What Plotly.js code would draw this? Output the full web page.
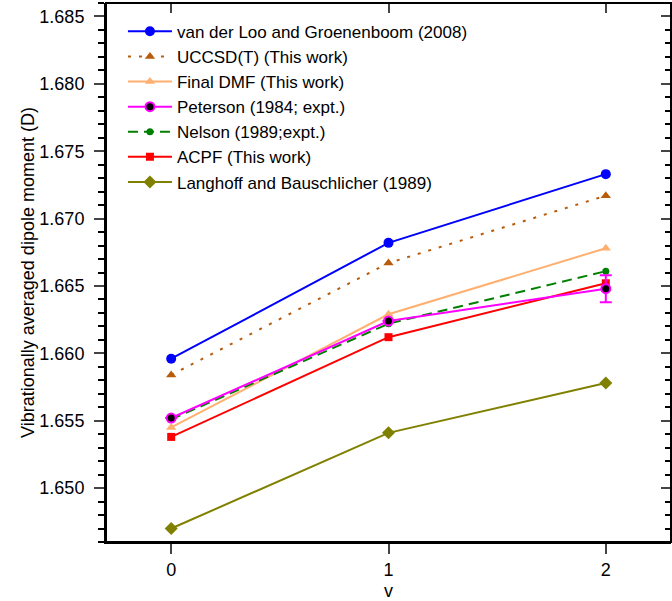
<!DOCTYPE html>
<html>
<head>
<meta charset="utf-8">
<script src="https://cdn.plot.ly/plotly-3.0.1.min.js"></script>
<style>html,body{margin:0;padding:0;background:#fff;}#chart{width:672px;height:601px;}</style>
</head>
<body>
<div id="chart"></div>
<script>
const v = [0, 1, 2];
const tickVals = [0, 1, 2];
const tickText = ["0", "1", "2"];
const vanDerLoo = [1.6596, 1.6682, 1.6733];
const uccsdt = [1.6584, 1.6667, 1.6717];
const finalDMF = [1.6545, 1.6629, 1.6678];
const peterson = [1.6552, 1.6624, 1.6648];
const petersonErr = [0, 0, 0.001];
const nelson = [1.6551, 1.6622, 1.6661];
const acpf = [1.6538, 1.6612, 1.6652];
const langhoff = [1.6470, 1.6541, 1.6578];

const names = [
  "van der Loo and Groenenboom (2008)",
  "UCCSD(T) (This work)",
  "Final DMF (This work)",
  "Peterson (1984; expt.)",
  "Nelson (1989;expt.)",
  "ACPF (This work)",
  "Langhoff and Bauschlicher (1989)"
];

const traces = [
  {x: v, y: langhoff, name: names[6], legendrank: 7, mode: "lines+markers",
   line: {color: "#808000", width: 2}, marker: {symbol: "diamond", size: 10, color: "#808000"}},
  {x: v, y: vanDerLoo, name: names[0], legendrank: 1, mode: "lines+markers",
   line: {color: "#0000FF", width: 2}, marker: {symbol: "circle", size: 10, color: "#0000FF"}},
  {x: v, y: uccsdt, name: names[1], legendrank: 2, mode: "lines+markers",
   line: {color: "#B85C0C", width: 2, dash: "3px,8px"}, marker: {symbol: "triangle-up", size: 9, color: "#B85C0C"}},
  {x: v, y: finalDMF, name: names[2], legendrank: 3, mode: "lines+markers",
   line: {color: "#FFB070", width: 2}, marker: {symbol: "triangle-up", size: 9, color: "#FFB070"}},
  {x: v, y: nelson, name: names[4], legendrank: 5, mode: "lines+markers",
   line: {color: "#008000", width: 2, dash: "10px,6px"}, marker: {symbol: "circle", size: 7, color: "#008000"}},
  {x: v, y: acpf, name: names[5], legendrank: 6, mode: "lines+markers",
   line: {color: "#FF0000", width: 2}, marker: {symbol: "square", size: 8, color: "#FF0000"}},
  {x: v, y: peterson, name: names[3], legendrank: 4, mode: "lines+markers",
   line: {color: "#FF00FF", width: 2},
   marker: {symbol: "circle", size: 9, color: "#000000", line: {color: "#FF00FF", width: 2}},
   error_y: {type: "data", array: petersonErr, visible: true, color: "#FF00FF", thickness: 2, width: 6}},
  {x: v, y: langhoff, xaxis: "x2", yaxis: "y2", mode: "markers", showlegend: false,
   hoverinfo: "skip", marker: {opacity: 0}}
];

const fontFam = "Liberation Sans, Arial, sans-serif";
const xr = [-0.3, 2.3];
const yr = [1.646, 1.686];

const layout = {
  width: 672, height: 601,
  margin: {l: 106, r: 1, t: 3, b: 59},
  paper_bgcolor: "#fff", plot_bgcolor: "#fff",
  font: {family: fontFam, size: 18, color: "#000"},
  showlegend: true,
  legend: {x: 0.03, y: 0.98, xanchor: "left", yanchor: "top", itemwidth: 44,
    bgcolor: "rgba(0,0,0,0)", borderwidth: 0, font: {family: fontFam, size: 17, color: "#000"},
    tracegroupgap: 0},
  xaxis: {range: xr, tickvals: tickVals, ticktext: tickText, ticks: "outside", ticklen: 10, tickwidth: 2,
    showline: true, linewidth: 2, linecolor: "#000", showgrid: false, zeroline: false,
    title: {text: "v", font: {size: 18}, standoff: 12}, ticklabelstandoff: 0},
  yaxis: {range: yr, dtick: 0.005, tickformat: ".3f", ticks: "outside", ticklen: 10, tickwidth: 2,
    showline: true, linewidth: 2, linecolor: "#000", showgrid: false, zeroline: false,
    minor: {dtick: 0.001, ticks: "outside", ticklen: 6, tickwidth: 2, tickcolor: "#000"},
    title: {text: "Vibrationally averaged dipole moment (D)", font: {size: 18}, standoff: 0},
    ticklabelstandoff: 6},
  xaxis2: {range: xr, overlaying: "x", side: "top", tickvals: tickVals, ticks: "inside", ticklen: 10, tickwidth: 2,
    showticklabels: false, showline: false, showgrid: false, zeroline: false},
  yaxis2: {range: yr, overlaying: "y", side: "right", dtick: 0.005, ticks: "inside", ticklen: 10, tickwidth: 2,
    showticklabels: false, showline: false, showgrid: false, zeroline: false,
    minor: {dtick: 0.001, ticks: "inside", ticklen: 6, tickwidth: 2, tickcolor: "#000"}},
  shapes: [
    {type: "rect", xref: "paper", yref: "paper", x0: 0, x1: 1, y0: 0, y1: 1, line: {color: "#000", width: 2}}
  ]
};

Plotly.newPlot("chart", traces, layout, {displayModeBar: false, staticPlot: true});
</script>
</body>
</html>
